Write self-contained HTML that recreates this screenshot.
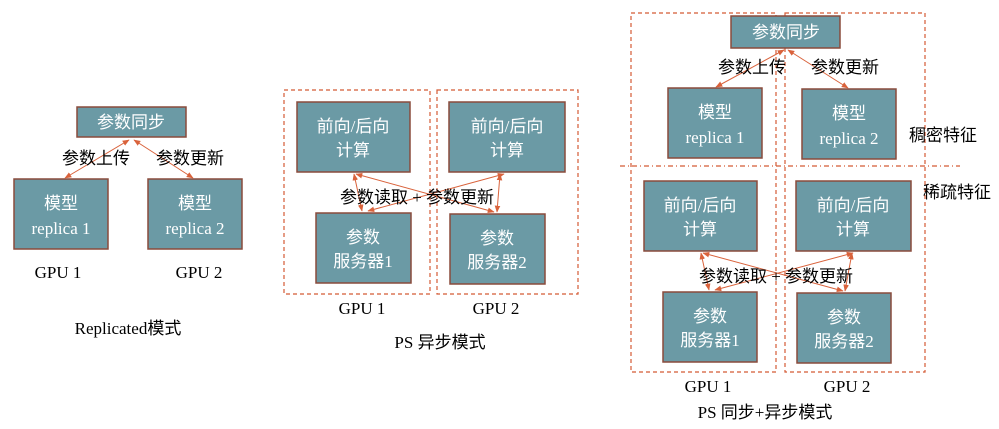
<!DOCTYPE html>
<html><head><meta charset="utf-8"><style>
html,body{margin:0;padding:0;background:#fff;width:999px;height:429px;overflow:hidden}
svg text{font-family:"Liberation Serif","Noto Sans CJK SC",serif}
.b{fill:#6b9aa5;stroke:#8a4b3c;stroke-width:1.5}
.w{fill:#fff;font-size:17px;text-anchor:middle;font-family:"Liberation Serif","Noto Sans CJK SC",sans-serif}
.k{fill:#000;font-size:17px;text-anchor:middle}
.d{fill:none;stroke:#d45a35;stroke-width:1.2;stroke-dasharray:4,3}
.a{stroke:#d9623b;stroke-width:1;marker-start:url(#m);marker-end:url(#m)}
</style></head><body>
<svg width="999" height="429" xmlns="http://www.w3.org/2000/svg">
<defs><marker id="m" viewBox="0 0 10 10" refX="9" refY="5" markerWidth="7" markerHeight="7" orient="auto-start-reverse"><path d="M0,1 L10,5 L0,9 z" fill="#d9623b"/></marker></defs>

<!-- Left -->
<rect class="b" x="77" y="107" width="109" height="30"/>
<text class="w" x="131" y="128">参数同步</text>
<rect class="b" x="14" y="179" width="94" height="70"/>
<text class="w" x="61" y="209">模型</text><text class="w" x="61" y="234">replica 1</text>
<rect class="b" x="148" y="179" width="94" height="70"/>
<text class="w" x="195" y="209">模型</text><text class="w" x="195" y="234">replica 2</text>
<line class="a" x1="129" y1="140" x2="65" y2="178"/>
<line class="a" x1="134" y1="140" x2="193" y2="178"/>
<text class="k" x="96" y="164">参数上传</text>
<text class="k" x="190" y="164">参数更新</text>
<text class="k" x="58" y="278">GPU 1</text>
<text class="k" x="199" y="278">GPU 2</text>
<text class="k" x="128" y="334">Replicated模式</text>

<!-- Middle -->
<rect class="d" x="284" y="90" width="146" height="204"/>
<rect class="d" x="437" y="90" width="141" height="204"/>
<rect class="b" x="297" y="102" width="113" height="70"/>
<text class="w" x="353" y="132">前向/后向</text><text class="w" x="353" y="156">计算</text>
<rect class="b" x="449" y="102" width="116" height="70"/>
<text class="w" x="507" y="132">前向/后向</text><text class="w" x="507" y="156">计算</text>
<rect class="b" x="316" y="213" width="95" height="70"/>
<text class="w" x="363" y="243">参数</text><text class="w" x="363" y="267">服务器1</text>
<rect class="b" x="450" y="214" width="95" height="70"/>
<text class="w" x="497" y="244">参数</text><text class="w" x="497" y="268">服务器2</text>
<line class="a" x1="354" y1="174" x2="362" y2="211"/>
<line class="a" x1="356" y1="174" x2="494" y2="212"/>
<line class="a" x1="504" y1="174" x2="368" y2="211"/>
<line class="a" x1="500" y1="174" x2="497" y2="212"/>
<text class="k" x="417" y="203">参数读取 + 参数更新</text>
<text class="k" x="362" y="314">GPU 1</text>
<text class="k" x="496" y="314">GPU 2</text>
<text class="k" x="440" y="348">PS 异步模式</text>

<!-- Right -->
<rect class="d" x="631" y="13" width="145" height="359"/>
<rect class="d" x="785" y="13" width="140" height="359"/>
<line x1="620" y1="166" x2="960" y2="166" stroke="#d45a35" stroke-width="1.2" stroke-dasharray="5,3,1,3"/>
<rect class="b" x="731" y="16" width="109" height="32"/>
<text class="w" x="786" y="38">参数同步</text>
<rect class="b" x="668" y="88" width="94" height="70"/>
<text class="w" x="715" y="118">模型</text><text class="w" x="715" y="143">replica 1</text>
<rect class="b" x="802" y="89" width="94" height="70"/>
<text class="w" x="849" y="119">模型</text><text class="w" x="849" y="144">replica 2</text>
<line class="a" x1="784" y1="50" x2="716" y2="87"/>
<line class="a" x1="788" y1="50" x2="848" y2="88"/>
<text class="k" x="752" y="73">参数上传</text>
<text class="k" x="845" y="73">参数更新</text>
<text class="k" x="943" y="141">稠密特征</text>
<text class="k" x="957" y="198">稀疏特征</text>
<rect class="b" x="644" y="181" width="113" height="70"/>
<text class="w" x="700" y="211">前向/后向</text><text class="w" x="700" y="235">计算</text>
<rect class="b" x="796" y="181" width="115" height="70"/>
<text class="w" x="853" y="211">前向/后向</text><text class="w" x="853" y="235">计算</text>
<rect class="b" x="663" y="292" width="94" height="70"/>
<text class="w" x="710" y="322">参数</text><text class="w" x="710" y="346">服务器1</text>
<rect class="b" x="797" y="293" width="94" height="70"/>
<text class="w" x="844" y="323">参数</text><text class="w" x="844" y="347">服务器2</text>
<line class="a" x1="701" y1="253" x2="709" y2="290"/>
<line class="a" x1="703" y1="253" x2="843" y2="291"/>
<line class="a" x1="853" y1="253" x2="715" y2="290"/>
<line class="a" x1="852" y1="253" x2="845" y2="291"/>
<text class="k" x="776" y="282">参数读取 + 参数更新</text>
<text class="k" x="708" y="392">GPU 1</text>
<text class="k" x="847" y="392">GPU 2</text>
<text class="k" x="765" y="418">PS 同步+异步模式</text>
</svg>
</body></html>
